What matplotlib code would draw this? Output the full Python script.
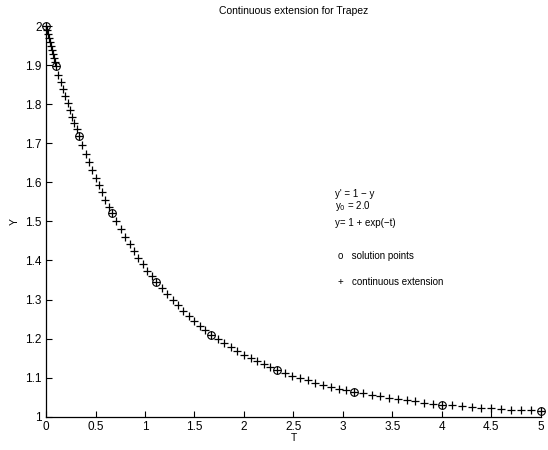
import matplotlib
matplotlib.use("Agg")
import matplotlib.pyplot as plt
import numpy as np

plt.rcParams['font.family'] = ['Liberation Sans', 'DejaVu Sans']

# solution points (nodes of the trapezoidal rule)
t_nodes = [0.0, 0.1, 0.333, 0.667, 1.111, 1.667, 2.333, 3.111, 4.0, 5.0]
y_nodes = [2.0, 1.897, 1.719, 1.521, 1.346, 1.210, 1.119, 1.064, 1.031, 1.015]

# continuous extension, 9 interior points per step
t_ext = [0.01, 0.02, 0.03, 0.04, 0.05, 0.06, 0.07, 0.08, 0.09,
         0.123, 0.147, 0.170, 0.193, 0.217, 0.240, 0.263, 0.287, 0.310,
         0.367, 0.400, 0.433, 0.467, 0.500, 0.533, 0.567, 0.600, 0.633,
         0.711, 0.756, 0.800, 0.844, 0.889, 0.933, 0.978, 1.022, 1.067,
         1.167, 1.222, 1.278, 1.333, 1.389, 1.444, 1.500, 1.556, 1.611,
         1.733, 1.800, 1.867, 1.933, 2.000, 2.067, 2.133, 2.200, 2.267,
         2.411, 2.489, 2.567, 2.644, 2.722, 2.800, 2.878, 2.956, 3.033,
         3.200, 3.289, 3.378, 3.467, 3.556, 3.644, 3.733, 3.822, 3.911,
         4.1, 4.2, 4.3, 4.4, 4.5, 4.6, 4.7, 4.8, 4.9]
y_ext = [1.990, 1.980, 1.969, 1.959, 1.949, 1.938, 1.928, 1.918, 1.907,
         1.876, 1.858, 1.838, 1.821, 1.802, 1.785, 1.768, 1.751, 1.736,
         1.696, 1.673, 1.653, 1.632, 1.612, 1.593, 1.574, 1.555, 1.538,
         1.500, 1.480, 1.460, 1.442, 1.424, 1.407, 1.390, 1.374, 1.360,
         1.329, 1.314, 1.299, 1.285, 1.271, 1.258, 1.245, 1.233, 1.221,
         1.199, 1.188, 1.178, 1.168, 1.159, 1.150, 1.142, 1.134, 1.126,
         1.112, 1.105, 1.099, 1.093, 1.087, 1.082, 1.077, 1.072, 1.068,
         1.060, 1.056, 1.052, 1.048, 1.045, 1.042, 1.039, 1.036, 1.033,
         1.029, 1.027, 1.025, 1.023, 1.021, 1.020, 1.018, 1.017, 1.016]

fig = plt.figure(figsize=(5.48, 4.5), dpi=100)
ax = fig.add_axes([0.084, 0.074, 0.903, 0.868])

ax.plot(t_nodes, y_nodes, 'o', mfc='none', mec='k', ms=5.5, mew=0.8, clip_on=False)
ax.plot(t_ext + t_nodes, y_ext + y_nodes, '+', color='k', ms=6, mew=0.9, clip_on=False)

ax.set_xlim(0, 5)
ax.set_ylim(1, 2)
ax.set_xticks(np.arange(0, 5.01, 0.5))
ax.set_xticklabels(['0', '0.5', '1', '1.5', '2', '2.5', '3', '3.5', '4', '4.5', '5'])
ax.set_yticks(np.arange(1, 2.01, 0.1))
ax.set_yticklabels(['1', '1.1', '1.2', '1.3', '1.4', '1.5', '1.6', '1.7', '1.8', '1.9', '2'])
ax.tick_params(direction='in', length=4, width=0.8, labelsize=8.5, pad=3)
ax.spines['top'].set_visible(False)
ax.spines['right'].set_visible(False)
for s in ['left', 'bottom']:
    ax.spines[s].set_linewidth(0.9)

ax.set_xlabel('T', fontsize=7.5, labelpad=0)
ax.set_ylabel('Y', fontsize=7.5, labelpad=4)
ax.set_title('Continuous extension for Trapez', fontsize=7.5, pad=9)

ax.text(2.92, 1.563, "y' = 1 \u2212 y", fontsize=7)
ax.text(2.92, 1.533, "y$_0$ = 2.0", fontsize=7)
ax.text(2.92, 1.488, "y= 1 + exp(\u2212t)", fontsize=7)
ax.text(2.95, 1.403, "o   solution points", fontsize=7)
ax.text(2.95, 1.338, "+   continuous extension", fontsize=7)

fig.savefig('out.png', dpi=100)
